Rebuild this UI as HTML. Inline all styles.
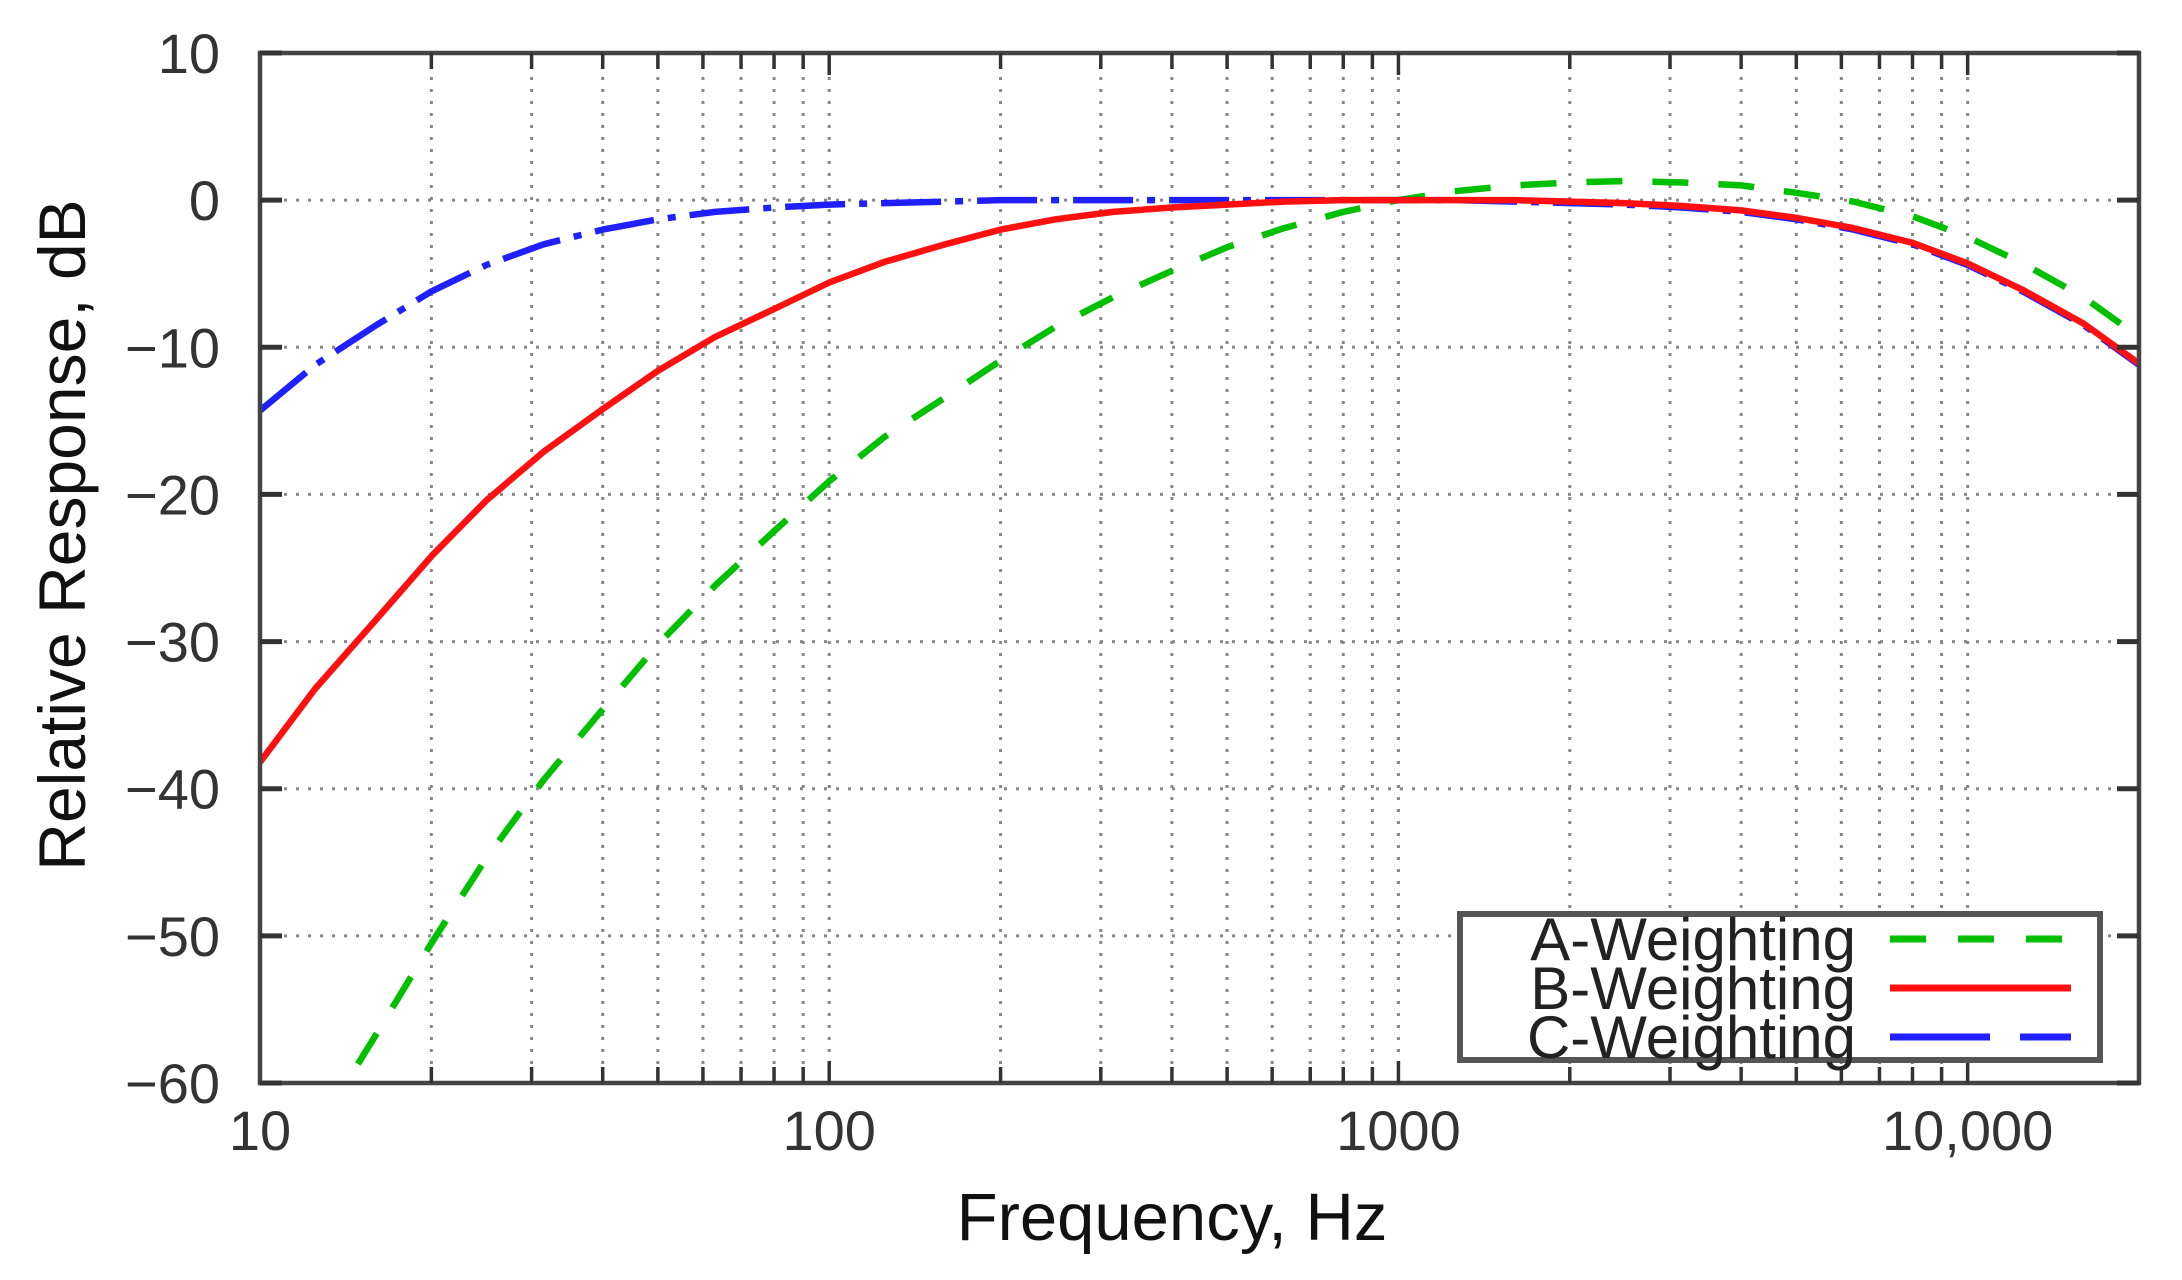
<!DOCTYPE html>
<html><head><meta charset="utf-8"><style>
html,body{margin:0;padding:0;background:#fff;}
svg{display:block;font-family:"Liberation Sans",sans-serif;}
</style></head><body>
<svg id="chart" width="2182" height="1280" viewBox="0 0 2182 1280" xmlns="http://www.w3.org/2000/svg">
<g id="grid"></g>
<g id="series"></g>
<rect x="260" y="53" width="1879" height="1030" fill="none" stroke="#444" stroke-width="4.5"/>
<g id="ticks"></g>
<g id="labels" fill="#333" font-size="56"></g>
<text transform="translate(85,535) rotate(-90)" text-anchor="middle" font-size="66" fill="#111">Relative Response, dB</text>
<text x="1172" y="1240" text-anchor="middle" font-size="67" fill="#111">Frequency, Hz</text>
<g>
<rect x="1460" y="914" width="640" height="146" fill="#fff" stroke="#555" stroke-width="6"/>
<text x="1856" y="960" text-anchor="end" font-size="60" fill="#222">A-Weighting</text>
<text x="1856" y="1009" text-anchor="end" font-size="60" fill="#222">B-Weighting</text>
<text x="1856" y="1058" text-anchor="end" font-size="60" fill="#222">C-Weighting</text>
<line x1="1890" y1="939" x2="2071" y2="939" stroke="#00c000" stroke-width="7" stroke-dasharray="36 32"/>
<line x1="1890" y1="988" x2="2071" y2="988" stroke="#ff1010" stroke-width="7"/>
<line x1="1890" y1="1037" x2="2071" y2="1037" stroke="#2020ff" stroke-width="7" stroke-dasharray="100 30"/>
</g>
</svg>
<script>
const freqs=[10,12.5,16,20,25,31.5,40,50,63,80,100,125,160,200,250,315,400,500,630,800,1000,1250,1600,2000,2500,3150,4000,5000,6300,8000,10000,12500,16000,20000];
const aVals=[-70.4,-63.4,-56.7,-50.5,-44.7,-39.4,-34.6,-30.2,-26.2,-22.5,-19.1,-16.1,-13.4,-10.9,-8.6,-6.6,-4.8,-3.2,-1.9,-0.8,0,0.6,1.0,1.2,1.3,1.2,1.0,0.5,-0.1,-1.1,-2.5,-4.3,-6.6,-9.3];
const bVals=[-38.2,-33.2,-28.5,-24.2,-20.4,-17.1,-14.2,-11.6,-9.3,-7.4,-5.6,-4.2,-3.0,-2.0,-1.3,-0.8,-0.5,-0.3,-0.1,0,0,0,0,-0.1,-0.2,-0.4,-0.7,-1.2,-1.9,-2.9,-4.3,-6.1,-8.4,-11.1];
const cVals=[-14.3,-11.2,-8.5,-6.2,-4.4,-3.0,-2.0,-1.3,-0.8,-0.5,-0.3,-0.2,-0.1,0,0,0,0,0,0,0,0,0,-0.1,-0.2,-0.3,-0.5,-0.8,-1.3,-2.0,-3.0,-4.4,-6.2,-8.5,-11.2];
const yTicks=[10,0,-10,-20,-30,-40,-50,-60];
const xTickVals=[10,100,1000,10000];
const xTickLabels=["10","100","1000","10,000"];
const X0=260,X1=2139,Y0=53,Y1=1083,FMIN=10,FMAX=20000,YMAX=10,YMIN=-60;
const NS="http://www.w3.org/2000/svg";
function xs(f){return X0+(Math.log10(f)-Math.log10(FMIN))/(Math.log10(FMAX)-Math.log10(FMIN))*(X1-X0);}
function ys(v){return Y0+(YMAX-v)/(YMAX-YMIN)*(Y1-Y0);}
function mk(t,a,p){const e=document.createElementNS(NS,t);for(const k in a)e.setAttribute(k,a[k]);p.appendChild(e);return e;}
const grid=document.getElementById('grid'),ticks=document.getElementById('ticks'),labels=document.getElementById('labels'),series=document.getElementById('series');
for(let d=10;d<=10000;d*=10){for(let m=1;m<=9;m++){const f=d*m;if(f<=FMIN||f>=FMAX)continue;const x=xs(f);
const g=mk('line',{x1:x,y1:Y0,x2:x,y2:Y1,stroke:'#888','stroke-width':3,'stroke-dasharray':'3 9'},grid);


const t1=mk('line',{x1:x,y1:Y1,x2:x,y2:Y1-(m===1?22:16),stroke:'#333','stroke-width':3.5},ticks);


const t2=mk('line',{x1:x,y1:Y0,x2:x,y2:Y0+(m===1?22:16),stroke:'#333','stroke-width':3.5},ticks);

}}
yTicks.forEach(v=>{const y=ys(v);
if(v<YMAX&&v>YMIN){const g=mk('line',{x1:X0,y1:y,x2:X1,y2:y,stroke:'#888','stroke-width':3,'stroke-dasharray':'3 9'},grid);

}
const t=mk('line',{x1:X0,y1:y,x2:X0+22,y2:y,stroke:'#333','stroke-width':5},ticks);


const t2=mk('line',{x1:X1,y1:y,x2:X1-22,y2:y,stroke:'#333','stroke-width':5},ticks);


const l=mk('text',{x:220,y:y+20,'text-anchor':'end'},labels);l.textContent=(v<0?'\u2212':'')+Math.abs(v);

});
xTickVals.forEach((f,i)=>{const l=mk('text',{x:xs(f),y:1150,'text-anchor':'middle'},labels);l.textContent=xTickLabels[i];

});
const defs=mk('defs',{},series);const cp=mk('clipPath',{id:'pc'},defs);mk('rect',{x:X0,y:Y0,width:X1-X0,height:Y1-Y0},cp);
function line(vals,color,dash,name){const pts=freqs.map((f,i)=>xs(f).toFixed(1)+','+ys(vals[i]).toFixed(1)).join(' ');
const a={points:pts,fill:'none',stroke:color,'stroke-width':6.5,'stroke-linejoin':'round','clip-path':'url(#pc)'};if(dash)a['stroke-dasharray']=dash;
const p=mk('polyline',a,series);

}
line(aVals,'#00c000','36 30','a-weighting-line');
line(cVals,'#2020ff','60 14 8 14','c-weighting-line');
line(bVals,'#ff1010',null,'b-weighting-line');
</script>
</body></html>
